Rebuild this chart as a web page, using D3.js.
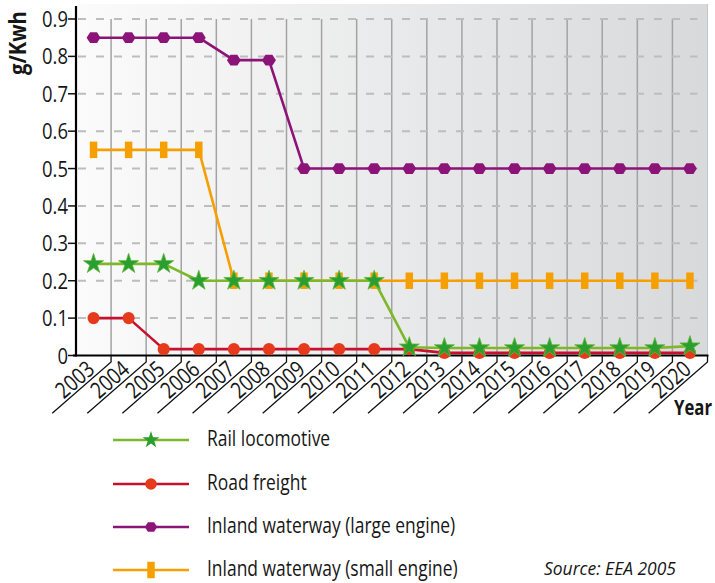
<!DOCTYPE html>
<html>
<head>
<meta charset="utf-8">
<script src="https://cdn.jsdelivr.net/npm/d3@7"></script>
<style>
  html, body { margin: 0; padding: 0; background: #ffffff; }
  svg { display: block; }
  text { font-family: "Open Sans", "Noto Sans", sans-serif; fill: #161616; }
</style>
</head>
<body>
<svg id="chart" width="715" height="583"></svg>
<script>
// ---------------- data ----------------
const years = ["2003","2004","2005","2006","2007","2008","2009","2010","2011","2012","2013","2014","2015","2016","2017","2018","2019","2020"];
const yTicks = [0, 0.1, 0.2, 0.3, 0.4, 0.5, 0.6, 0.7, 0.8, 0.9];
const yTickLabels = ["0","0.1","0.2","0.3","0.4","0.5","0.6","0.7","0.8","0.9"];
const railLocomotive = [0.245,0.245,0.245,0.2,0.2,0.2,0.2,0.2,0.2,0.022,0.02,0.02,0.02,0.02,0.02,0.02,0.02,0.025];
const roadFreight    = [0.1,0.1,0.017,0.017,0.017,0.017,0.017,0.017,0.017,0.017,0.007,0.007,0.007,0.007,0.007,0.007,0.007,0.007];
const inlandLarge    = [0.85,0.85,0.85,0.85,0.79,0.79,0.5,0.5,0.5,0.5,0.5,0.5,0.5,0.5,0.5,0.5,0.5,0.5];
const inlandSmall    = [0.55,0.55,0.55,0.55,0.2,0.2,0.2,0.2,0.2,0.2,0.2,0.2,0.2,0.2,0.2,0.2,0.2,0.2];
const seriesNames = ["Rail locomotive","Road freight","Inland waterway (large engine)","Inland waterway (small engine)"];
const yAxisTitle = "g/Kwh";
const xAxisTitle = "Year";
const sourceNote = "Source: EEA 2005";

// ---------------- layout ----------------
const svg = d3.select("#chart");
const left = 76, right = 707.5, bottom = 355.5, top0 = 19, bgTop = 4;

const x = d3.scaleBand().domain(years).range([left, right]).paddingInner(0).paddingOuter(0);
const y = d3.scaleLinear().domain([0, 0.9]).range([bottom, top0]);

// background gradient
const defs = svg.append("defs");
const grad = defs.append("linearGradient").attr("id","bg").attr("x1","0").attr("x2","1").attr("y1","0").attr("y2","0");
grad.append("stop").attr("offset","0%").attr("stop-color","#fbfbfb");
grad.append("stop").attr("offset","100%").attr("stop-color","#d8d9db");
svg.append("rect").attr("x", left).attr("y", bgTop).attr("width", right - left).attr("height", bottom - bgTop).attr("fill","url(#bg)");
svg.append("line").attr("x1", right).attr("x2", right).attr("y1", bgTop).attr("y2", bottom).attr("stroke","#c4c5c7").attr("stroke-width",1);

// vertical grid lines at band boundaries
const boundaries = years.slice(0, -1).map(d => x(d) + x.bandwidth());
svg.append("g").selectAll("line").data(boundaries).join("line")
  .attr("x1", d => d).attr("x2", d => d)
  .attr("y1", y(0.9)).attr("y2", bottom)
  .attr("stroke", "#a3a3a3").attr("stroke-width", 1.5);

// horizontal dashed grid lines
svg.append("g").selectAll("line").data(yTicks.slice(1)).join("line")
  .attr("x1", left + 2).attr("x2", right - 10)
  .attr("y1", d => y(d)).attr("y2", d => y(d))
  .attr("stroke", "#bdbdbd").attr("stroke-width", 2).attr("stroke-dasharray", "8,10");

// y axis ticks + labels
const gy = svg.append("g");
gy.selectAll("line").data(yTicks).join("line")
  .attr("x1", left - 8).attr("x2", left).attr("y1", d => y(d)).attr("y2", d => y(d))
  .attr("stroke", "#111").attr("stroke-width", 1.5);
gy.selectAll("text").data(yTicks).join("text")
  .attr("transform", d => `translate(${left - 8},${y(d) + 8}) scale(0.82,1)`)
  .attr("text-anchor", "end").attr("font-size", 22.5)
  .text((d,i) => yTickLabels[i]);
svg.append("line").attr("x1", left).attr("x2", left).attr("y1", 6).attr("y2", bottom + 1).attr("stroke","#000").attr("stroke-width",2.2);

// x axis line
svg.append("line").attr("x1", left - 3).attr("x2", right + 1).attr("y1", bottom).attr("y2", bottom).attr("stroke","#000").attr("stroke-width",2.2);

// x ticks: short vertical then diagonal underline, label above the line
const ang = 41 * Math.PI / 180;
const dlen = 78;
const tickEnds = years.map(d => x(d) + x.bandwidth());
const gx = svg.append("g");
gx.selectAll("path").data(tickEnds).join("path")
  .attr("d", d => `M${d},${bottom}L${d},${bottom + 6.5}L${d - dlen * Math.cos(ang)},${bottom + 6.5 + dlen * Math.sin(ang)}`)
  .attr("fill","none").attr("stroke","#111").attr("stroke-width",1.3);
gx.selectAll("text").data(years).join("text")
  .attr("transform", d => `translate(${x(d) + x.bandwidth() - 15},${bottom + 16}) rotate(-41) scale(0.83,1)`)
  .attr("text-anchor","end")
  .attr("font-size", 22.5)
  .text(d => d);

// axis titles
svg.append("text").attr("transform", `translate(26,43) rotate(-90) scale(0.88,1)`).attr("text-anchor","middle")
  .attr("font-size", 23).attr("font-weight","bold").text(yAxisTitle);
svg.append("text").attr("transform", `translate(712,415) scale(0.76,1)`).attr("text-anchor","end")
  .attr("font-size", 22).attr("font-weight","bold").text(xAxisTitle);

// ---------------- series ----------------
const hexagon = {
  draw(ctx, size) {
    const r = Math.sqrt(size / 2.6);
    for (let i = 0; i < 6; i++) {
      const a = Math.PI / 3 * i;
      const px = r * Math.cos(a), py = r * 0.9 * Math.sin(a);
      if (i === 0) ctx.moveTo(px, py); else ctx.lineTo(px, py);
    }
    ctx.closePath();
  }
};
const bar = {
  draw(ctx, size) {
    const w = 7.5, h = 16.5;
    ctx.rect(-w/2, -h/2, w, h);
  }
};

const series = [
  { name: seriesNames[3], values: inlandSmall, line: "#f5a000", fill: "#f5a000", symbol: bar, size: 100, legendSize: 100 },
  { name: seriesNames[2], values: inlandLarge, line: "#8c1479", fill: "#8c1479", symbol: hexagon, size: 125, legendSize: 100 },
  { name: seriesNames[1], values: roadFreight, line: "#c8102e", fill: "#e63a1c", symbol: d3.symbolCircle, size: 115, legendSize: 105 },
  { name: seriesNames[0], values: railLocomotive, line: "#7db828", fill: "#2a9e2e", symbol: d3.symbolStar, size: 125, legendSize: 90 }
];

const lineGen = d3.line().x((d,i) => x(years[i]) + x.bandwidth()/2).y(d => y(d));

series.forEach(s => {
  const g = svg.append("g");
  g.append("path").attr("d", lineGen(s.values)).attr("fill","none").attr("stroke", s.line).attr("stroke-width", 2.6).attr("stroke-linejoin","round");
  g.selectAll("path.m").data(s.values).join("path").attr("class","m")
    .attr("transform", (d,i) => `translate(${x(years[i]) + x.bandwidth()/2},${y(d)})`)
    .attr("d", d3.symbol().type(s.symbol).size(s.size)())
    .attr("fill", s.fill)
    .attr("stroke", s.symbol === d3.symbolStar ? "#5fb83a" : "none").attr("stroke-width", 0.8);
});

// ---------------- legend ----------------
const legendOrder = [3, 2, 1, 0];
const legendY = [440, 484, 527, 570];
const lg = svg.append("g");
legendOrder.forEach((si, k) => {
  const s = series[si];
  const ly = legendY[k];
  lg.append("line").attr("x1", 113).attr("x2", 189).attr("y1", ly).attr("y2", ly).attr("stroke", s.line).attr("stroke-width", 2.6);
  lg.append("path").attr("transform", `translate(151,${ly})`).attr("d", d3.symbol().type(s.symbol).size(s.legendSize)())
    .attr("fill", s.fill);
  lg.append("text").attr("transform", `translate(207,${ly + 6}) scale(0.775,1)`).attr("font-size", 22.5).text(s.name);
});

svg.append("text").attr("transform", "translate(676,575) scale(0.92,1)").attr("text-anchor","end")
  .attr("font-size", 19).attr("font-style","italic").attr("fill","#333").text(sourceNote);
</script>
</body>
</html>
